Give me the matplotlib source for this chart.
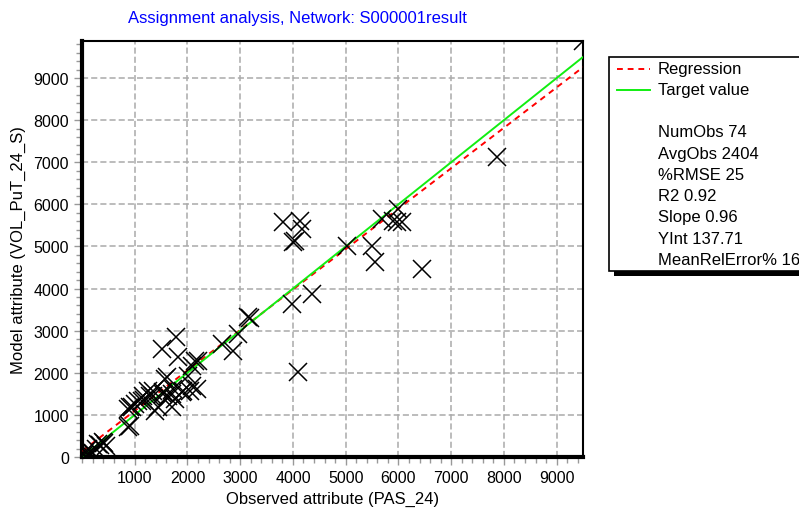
import matplotlib
matplotlib.use("Agg")
from matplotlib import pyplot as plt
from matplotlib.patches import Rectangle
from matplotlib.lines import Line2D
import numpy as np

plt.rcParams['font.family'] = ['Liberation Sans', 'DejaVu Sans']

# observed (PAS_24) / model (VOL_PuT_24_S) pairs
observed = [9500, 7870, 6450, 6000, 5970, 6070, 5900, 5690, 5560, 5500,
            5020, 4360, 3980, 4100, 4000, 4030, 3810, 4140, 4170, 120,
            3180, 3150, 2960, 2870, 2650, 2180, 2140, 2080, 2080, 2010,
            1910, 1820, 1790, 1760, 1710, 1700, 1630, 1610, 1570, 1540,
            1510, 1440, 1380, 1350, 1290, 1250, 1160, 1130, 1060, 1000,
            940, 910, 870, 880, 910, 460, 420, 400, 350, 300,
            260, 150, 110, 50, 30, 80, 200, 1890, 1730, 1350,
            2050, 1530, 1180, 2200]
modeled = [9880, 7120, 4470, 5890, 5580, 5580, 5610, 5650, 4630, 5010,
           5010, 3870, 3630, 2020, 5100, 5140, 5590, 5610, 5420, 60,
           3290, 3320, 2920, 2520, 2680, 1620, 2280, 2170, 1690, 1920,
           1570, 2370, 2850, 1380, 1190, 1500, 1450, 1900, 1850, 1540,
           2560, 1190, 1090, 1450, 1450, 1570, 1450, 1330, 1330, 1260,
           1190, 1190, 1140, 710, 740, 260, 330, 350, 290, 300,
           180, 70, 190, 120, 40, 20, 90, 1540, 1610, 1560,
           1570, 1490, 1350, 2290]

slope, yint = 0.96, 137.71
x_max, y_max = 9500, 9880

stats = ["NumObs 74", "AvgObs 2404", "%RMSE 25", "R2 0.92",
         "Slope 0.96", "YInt 137.71", "MeanRelError% 16"]

W, H = 799, 510
fig = plt.figure(figsize=(W / 100, H / 100), dpi=100)
ax = fig.add_axes([82 / W, 1 - 458 / H, (583 - 82) / W, (458 - 42) / H])

xs = np.array([0, x_max])
ax.plot(xs, slope * xs + yint, color='red', lw=1.4, ls=(0, (3, 2.5)), zorder=3)
ax.plot(xs, xs, color='#11ee11', lw=1.4, zorder=3)
ax.plot(observed, modeled, ls='none', marker='x', color='black',
        markersize=13, markeredgewidth=1.1, zorder=4)

ax.set_xlim(0, x_max)
ax.set_ylim(0, y_max)
ax.set_xticks(range(1000, 10000, 1000))
ax.set_yticks(range(0, 10000, 1000))
ax.set_xticks(range(0, 9600, 200), minor=True)
ax.set_yticks(range(0, 9900, 200), minor=True)
ax.grid(True, which='major', color='#aaaaaa', ls=(0, (4, 2)), lw=1.1)
ax.tick_params(which='both', direction='out', color='#999999', labelsize=11.5)
ax.tick_params(which='major', length=6, width=1)
ax.tick_params(which='minor', length=4, width=1)

ax.spines['left'].set_linewidth(3)
ax.spines['bottom'].set_linewidth(3)
ax.spines['top'].set_linewidth(1.5)
ax.spines['right'].set_linewidth(1.5)

ax.set_xlabel("Observed attribute (PAS_24)", fontsize=12, labelpad=4)
ax.set_ylabel("Model attribute (VOL_PuT_24_S)", fontsize=12, labelpad=5)
fig.text(297 / W, 1 - 18 / H, "Assignment analysis, Network: S000001result",
         color='#0000ff', fontsize=12, ha='center', va='center')

# legend box with shadow
def fx(px):
    return px / W

def fy(py):
    return 1 - py / H

fig.patches.append(Rectangle((fx(614), fy(277)), fx(200) - fx(0), (272 - 58) / H,
                             transform=fig.transFigure, facecolor='black',
                             edgecolor='none', zorder=1))
fig.patches.append(Rectangle((fx(609), fy(272)), fx(200) - fx(0), (272 - 58) / H,
                             transform=fig.transFigure, facecolor='white',
                             edgecolor='black', lw=1.2, zorder=2))
fig.lines.append(Line2D([fx(617), fx(650)], [fy(70), fy(70)], transform=fig.transFigure,
                        color='red', lw=1.4, ls=(0, (3, 2.5)), zorder=3))
fig.lines.append(Line2D([fx(617), fx(650)], [fy(91), fy(91)], transform=fig.transFigure,
                        color='#11ee11', lw=1.4, zorder=3))
fig.text(fx(658), fy(70), "Regression", fontsize=12, va='center', zorder=4)
fig.text(fx(658), fy(91), "Target value", fontsize=12, va='center', zorder=4)
for i, s in enumerate(stats):
    fig.text(fx(658), fy(133 + i * 21.2), s, fontsize=12, va='center', zorder=4)

fig.savefig("out.png", dpi=100)
